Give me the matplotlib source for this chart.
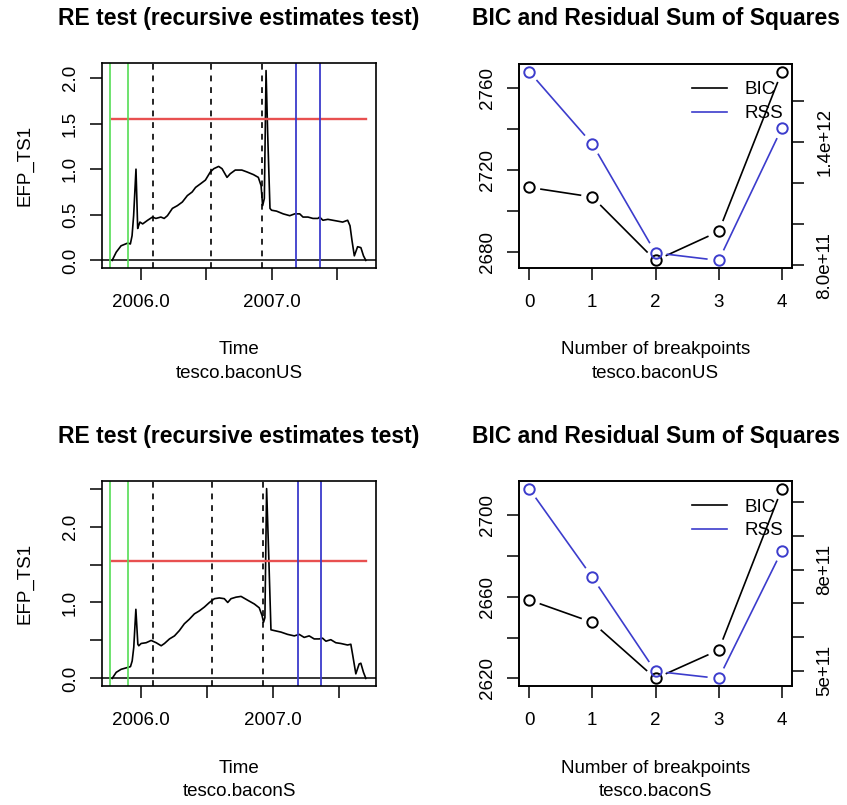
import numpy as np
import matplotlib
matplotlib.use("Agg")
import matplotlib.pyplot as plt
from matplotlib.lines import Line2D

plt.rcParams['font.family'] = ['Liberation Sans', 'DejaVu Sans']

# empirical fluctuation process, tesco.baconUS
t_us = [2005.780, 2005.811, 2005.848, 2005.899, 2005.919, 2005.932, 2005.944, 2005.962,
        2005.975, 2005.982, 2005.992, 2006.013, 2006.051, 2006.088, 2006.114, 2006.152,
        2006.177, 2006.202, 2006.240, 2006.278, 2006.316, 2006.354, 2006.391, 2006.417,
        2006.455, 2006.492, 2006.530, 2006.556, 2006.593, 2006.619, 2006.657, 2006.682,
        2006.720, 2006.770, 2006.808, 2006.859, 2006.896, 2006.917, 2006.929, 2006.942,
        2006.955, 2006.967, 2006.985, 2006.997, 2007.035, 2007.086, 2007.136, 2007.174,
        2007.212, 2007.237, 2007.275, 2007.313, 2007.351, 2007.364, 2007.389, 2007.427,
        2007.465, 2007.503, 2007.540, 2007.578, 2007.596, 2007.611, 2007.629, 2007.654,
        2007.679, 2007.699, 2007.717]
efp_us = [0.00, 0.09, 0.16, 0.19, 0.18, 0.27, 0.49, 1.00,
          0.35, 0.38, 0.42, 0.40, 0.44, 0.475, 0.46, 0.475,
          0.46, 0.49, 0.57, 0.60, 0.64, 0.71, 0.75, 0.80,
          0.84, 0.88, 0.97, 1.005, 1.03, 1.005, 0.91, 0.95,
          0.99, 0.99, 0.97, 0.94, 0.91, 0.82, 0.60, 0.68,
          2.08, 1.41, 0.57, 0.55, 0.54, 0.51, 0.49, 0.51,
          0.51, 0.475, 0.475, 0.46, 0.46, 0.475, 0.44, 0.45,
          0.44, 0.43, 0.42, 0.44, 0.38, 0.22, 0.05, 0.15,
          0.14, 0.05, 0.00]

# empirical fluctuation process, tesco.baconS
t_s = [2005.780, 2005.811, 2005.848, 2005.899, 2005.919, 2005.932, 2005.944, 2005.960,
       2005.975, 2005.982, 2006.000, 2006.038, 2006.076, 2006.114, 2006.152, 2006.177,
       2006.215, 2006.253, 2006.290, 2006.328, 2006.366, 2006.404, 2006.442, 2006.480,
       2006.518, 2006.556, 2006.593, 2006.631, 2006.657, 2006.682, 2006.720, 2006.758,
       2006.808, 2006.859, 2006.896, 2006.917, 2006.929, 2006.939, 2006.952, 2006.967,
       2006.985, 2007.010, 2007.061, 2007.111, 2007.162, 2007.199, 2007.237, 2007.275,
       2007.313, 2007.351, 2007.376, 2007.402, 2007.439, 2007.477, 2007.515, 2007.566,
       2007.591, 2007.604, 2007.629, 2007.654, 2007.667, 2007.687, 2007.705]
efp_s = [0.00, 0.08, 0.12, 0.145, 0.155, 0.23, 0.41, 0.91,
         0.45, 0.43, 0.46, 0.47, 0.50, 0.47, 0.43, 0.46,
         0.52, 0.56, 0.63, 0.72, 0.78, 0.85, 0.89, 0.94,
         1.00, 1.05, 1.06, 1.05, 1.00, 1.05, 1.07, 1.08,
         1.03, 0.98, 0.93, 0.83, 0.74, 0.80, 2.50, 1.68,
         0.64, 0.63, 0.61, 0.58, 0.56, 0.58, 0.54, 0.56,
         0.52, 0.52, 0.53, 0.49, 0.51, 0.47, 0.46, 0.44,
         0.45, 0.32, 0.06, 0.19, 0.20, 0.08, 0.00]

boundary = 1.545
green_bp = [2005.767, 2005.900]
dashed_bp = [2006.093, 2006.538, 2006.922]
blue_bp = [2007.187, 2007.364]

# breakpoint selection
n_bp = [0, 1, 2, 3, 4]
bic_us = [2711.4, 2706.7, 2675.8, 2689.9, 2767.8]
rss_us = [1.746e12, 1.392e12, 8.60e11, 8.23e11, 1.470e12]
bic_s = [2658.5, 2647.5, 2620.0, 2633.9, 2713.1]
rss_s = [1.040e12, 7.77e11, 4.98e11, 4.77e11, 8.56e11]

RED = '#e85050'
GREEN = '#55dd55'
BLUE = '#3c3ccc'
FS = 13.5

W, H = 847, 805
fig = plt.figure(figsize=(W / 100, H / 100), dpi=100)


def px_axes(l, t, r, b):
    return fig.add_axes([l / W, 1 - b / H, (r - l) / W, (b - t) / H])


def style(ax):
    for s in ax.spines.values():
        s.set_linewidth(1.2)
    ax.tick_params(direction='out', length=8.5, width=1.1, labelsize=FS)
    ax.tick_params(axis='x', pad=10)
    ax.tick_params(axis='y', pad=8, labelrotation=90)
    for lab in ax.get_yticklabels():
        lab.set_va('center')


def texts(ax, title, xlab, sub, ylab=None):
    ax.annotate(title, xy=(0.5, 1), xycoords='axes fraction', xytext=(0, 45),
                textcoords='offset pixels', ha='center', va='center',
                fontsize=16.5, fontweight='bold')
    ax.annotate(xlab, xy=(0.5, 0), xycoords='axes fraction', xytext=(0, -82),
                textcoords='offset pixels', ha='center', va='center', fontsize=FS)
    ax.annotate(sub, xy=(0.5, 0), xycoords='axes fraction', xytext=(0, -105),
                textcoords='offset pixels', ha='center', va='center', fontsize=FS)
    if ylab:
        ax.annotate(ylab, xy=(0, 0.5), xycoords='axes fraction', xytext=(-77, 0),
                    textcoords='offset pixels', ha='center', va='center',
                    rotation=90, fontsize=FS)


def efp_panel(ax, t, v, yticks, ylabels, name):
    t = np.array(t)
    v = np.array(v)
    ax.plot(t, v, color='black', lw=1.2)
    ax.axhline(0, color='black', lw=1.1)
    ax.plot([t[0], t[-1]], [boundary, boundary], color=RED, lw=1.7)
    for b in green_bp:
        ax.axvline(b, color=GREEN, lw=1.2)
    for b in dashed_bp:
        ax.axvline(b, color='black', lw=1.2, ls=(0, (3.5, 3.5)))
    for b in blue_bp:
        ax.axvline(b, color=BLUE, lw=1.3)
    pad = 0.04 * (t.max() - t.min())
    ax.set_xlim(t.min() - pad, t.max() + pad)
    pad = 0.04 * (v.max() - v.min())
    ax.set_ylim(v.min() - pad, v.max() + pad)
    ax.set_xticks([2006.0, 2006.5, 2007.0, 2007.5], ['2006.0', '', '2007.0', ''])
    ax.set_yticks(yticks, ylabels)
    style(ax)
    texts(ax, 'RE test (recursive estimates test)', 'Time', name, 'EFP_TS1')


def draw_b(ax, x, y, color, gap=12):
    # R type="b": segments stop short of the points
    pts = ax.transData.transform(np.column_stack([x, y]))
    inv = ax.transData.inverted()
    for p, q in zip(pts[:-1], pts[1:]):
        d = q - p
        L = np.hypot(*d)
        if L > 2 * gap:
            u = d / L
            a = inv.transform(p + u * gap)
            b = inv.transform(q - u * gap)
            ax.plot([a[0], b[0]], [a[1], b[1]], color=color, lw=1.2)
    ax.plot(x, y, 'o', mfc='none', mec=color, ms=7.5, mew=1.4)


def bic_panel(ax, bic, rss, lticks, llabels, rticks, rlabels, name):
    ax2 = ax.twinx()
    ax.set_xlim(-0.16, 4.16)
    for a, vals in ((ax, bic), (ax2, rss)):
        vals = np.array(vals)
        pad = 0.04 * (vals.max() - vals.min())
        a.set_ylim(vals.min() - pad, vals.max() + pad)
    ax.set_xticks(n_bp, [str(n) for n in n_bp])
    ax.set_yticks(lticks, llabels)
    ax2.set_yticks(rticks, rlabels)
    draw_b(ax, n_bp, bic, 'black')
    draw_b(ax2, n_bp, rss, BLUE)
    style(ax)
    style(ax2)
    ax2.tick_params(axis='y', pad=9)
    handles = [Line2D([], [], color='black', lw=1.2), Line2D([], [], color=BLUE, lw=1.2)]
    ax2.legend(handles, ['BIC', 'RSS'], loc='upper right', bbox_to_anchor=(0.967, 0.915),
               frameon=False, fontsize=FS, borderpad=0, borderaxespad=0,
               handlelength=1.9, handletextpad=0.9, labelspacing=0.36)
    texts(ax, 'BIC and Residual Sum of Squares', 'Number of breakpoints', name)


ax1 = px_axes(102, 63, 376, 268)
efp_panel(ax1, t_us, efp_us, [0, 0.5, 1.0, 1.5, 2.0],
          ['0.0', '0.5', '1.0', '1.5', '2.0'], 'tesco.baconUS')

ax2 = px_axes(519, 64, 792, 268)
bic_panel(ax2, bic_us, rss_us, [2680, 2700, 2720, 2740, 2760],
          ['2680', '', '2720', '', '2760'],
          [8e11, 1.0e12, 1.2e12, 1.4e12, 1.6e12], ['8.0e+11', '', '', '1.4e+12', ''],
          'tesco.baconUS')

ax3 = px_axes(102, 481, 376, 686)
efp_panel(ax3, t_s, efp_s, [0, 0.5, 1.0, 1.5, 2.0, 2.5],
          ['0.0', '', '1.0', '', '2.0', ''], 'tesco.baconS')

ax4 = px_axes(519, 481, 792, 686)
bic_panel(ax4, bic_s, rss_s, [2620, 2640, 2660, 2680, 2700],
          ['2620', '', '2660', '', '2700'],
          [5e11, 6e11, 7e11, 8e11, 9e11, 1e12], ['5e+11', '', '', '8e+11', '', ''],
          'tesco.baconS')

fig.savefig('out.png', dpi=100)
